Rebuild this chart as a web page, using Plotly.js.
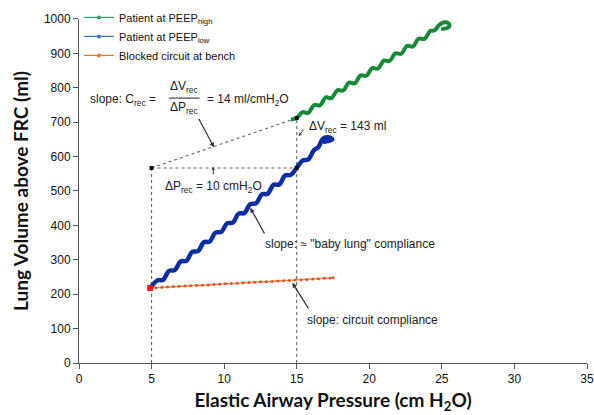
<!DOCTYPE html>
<html>
<head>
<meta charset="utf-8">
<script src="https://cdn.plot.ly/plotly-3.0.1.min.js"></script>
<style>html,body{margin:0;padding:0;background:#fff;}#chart{width:594px;height:415px;}</style>
</head>
<body>
<div id="chart"></div>
<script>
// ---- data ----
const highX = [14.6, 15.0, 15.4, 15.8, 16.2, 16.6, 17.0, 17.4, 17.8, 18.2, 18.6, 19.0, 19.4, 19.8, 20.2, 20.6, 21.0, 21.4, 21.8, 22.2, 22.6, 23.0, 23.4, 23.8, 24.2, 24.5, 24.8, 25.1, 25.45, 25.5, 25.2, 24.95];
const highY = [708, 712, 729, 727, 750, 749, 772, 770, 793, 792, 815, 813, 836, 835, 857, 856, 879, 878, 900, 899, 922, 920, 943, 942, 965, 967, 982, 990, 988, 978, 972, 972];

const lowX = [4.9, 5.4, 5.8, 6.2, 6.6, 7.0, 7.4, 7.8, 8.2, 8.6, 9.0, 9.4, 9.8, 10.2, 10.6, 11.0, 11.4, 11.8, 12.2, 12.6, 13.0, 13.4, 13.8, 14.2, 14.6, 15.0, 15.4, 15.8, 16.2, 16.5, 16.8, 17.15, 17.45, 17.1, 16.8];
const lowY = [218, 240, 242, 268, 270, 295, 297, 323, 325, 351, 353, 379, 381, 406, 408, 434, 436, 462, 464, 490, 492, 518, 519, 545, 547, 567, 588, 592, 619, 628, 652, 656, 650, 645, 642];

const benchX = [4.9, 5.3, 5.7, 6.1, 6.5, 6.9, 7.3, 7.7, 8.1, 8.5, 8.9, 9.3, 9.7, 10.1, 10.5, 10.9, 11.3, 11.7, 12.1, 12.5, 12.9, 13.3, 13.7, 14.1, 14.5, 14.9, 15.3, 15.7, 16.1, 16.5, 16.9, 17.3, 17.5];
const benchY = [218, 219, 220, 221, 222, 223, 224, 224.5, 225, 226, 227, 228, 229, 230, 231, 232, 233, 234, 235, 236, 236.5, 237, 238, 239, 240, 241, 242, 243, 244, 245, 246, 247, 247.5];

// recruitment construction (ΔP_rec, ΔV_rec)
const pRec = [5, 15];          // cmH2O
const vRecLow = 567;           // ml, low PEEP volume at 15
const vRecHigh = 712;          // ml, high PEEP volume at 15

const xTicks = [0, 5, 10, 15, 20, 25, 30, 35];
const yTicks = [0, 100, 200, 300, 400, 500, 600, 700, 800, 900, 1000];

const legendNames = ['Patient at PEEP<sub>high</sub>', 'Patient at PEEP<sub>low</sub>', 'Blocked circuit at bench'];

// ---- traces ----
const dotLine = {color: '#666', width: 1.1, dash: 'dot'};
const traces = [
  {x: [pRec[0], pRec[0]], y: [0, vRecLow], mode: 'lines', line: dotLine, showlegend: false},
  {x: [pRec[1], pRec[1]], y: [0, vRecHigh], mode: 'lines', line: dotLine, showlegend: false},
  {x: [pRec[0], pRec[1]], y: [vRecLow, vRecLow], mode: 'lines', line: dotLine, showlegend: false},
  {x: [pRec[0], pRec[1]], y: [vRecLow, vRecHigh], mode: 'lines', line: dotLine, showlegend: false},
  {x: benchX, y: benchY, mode: 'lines+markers', line: {color: '#f5844a', width: 1.3},
   marker: {color: '#e4501c', size: 3}, showlegend: false},
  {x: lowX, y: lowY, mode: 'lines', line: {color: '#0d2ea3', width: 4.5, shape: 'spline', smoothing: 1.1}, showlegend: false},
  {x: highX, y: highY, mode: 'lines', line: {color: '#178a3a', width: 4, shape: 'spline', smoothing: 1.1}, showlegend: false},
  {x: [benchX[0]], y: [benchY[0]], mode: 'markers', marker: {color: '#e41a1c', symbol: 'square', size: 6}, showlegend: false},
  {x: [pRec[0], pRec[1], pRec[1]], y: [vRecLow, vRecLow, vRecHigh], mode: 'markers',
   marker: {color: '#111', symbol: 'square', size: 4}, showlegend: false},
  // legend entries
  {x: [null], y: [null], name: legendNames[0], mode: 'lines+markers', line: {color: '#2f9e6a', width: 1.2}, marker: {color: '#2f9e6a', size: 4}},
  {x: [null], y: [null], name: legendNames[1], mode: 'lines+markers', line: {color: '#3a72c2', width: 1.2}, marker: {color: '#3a72c2', size: 4}},
  {x: [null], y: [null], name: legendNames[2], mode: 'lines+markers', line: {color: '#f07a2a', width: 1.2}, marker: {color: '#f07a2a', size: 4}}
];

const tf = {family: 'Liberation Sans, Arial, sans-serif', size: 12, color: '#222'};
const arrowBase = {showarrow: true, arrowhead: 2, arrowsize: 0.8, arrowwidth: 1.2, arrowcolor: '#333', text: '', axref: 'pixel', ayref: 'pixel'};

const annotations = [
  {x: 0.62, y: 765, xref: 'x', yref: 'y', text: 'slope: C<sub>rec</sub> =', showarrow: false, xanchor: 'left', yanchor: 'middle', font: tf},
  {x: 7.25, y: 802, xref: 'x', yref: 'y', text: 'ΔV<sub>rec</sub>', showarrow: false, xanchor: 'center', yanchor: 'middle', font: tf},
  {x: 7.25, y: 742, xref: 'x', yref: 'y', text: 'ΔP<sub>rec</sub>', showarrow: false, xanchor: 'center', yanchor: 'middle', font: tf},
  {x: 8.7, y: 765, xref: 'x', yref: 'y', text: '= 14 ml/cmH<sub>2</sub>O', showarrow: false, xanchor: 'left', yanchor: 'middle', font: tf},
  {x: 15.7, y: 686, xref: 'x', yref: 'y', text: 'ΔV<sub>rec</sub> = 143 ml', showarrow: false, xanchor: 'left', yanchor: 'middle', font: tf},
  {x: 5.8, y: 513, xref: 'x', yref: 'y', text: 'ΔP<sub>rec</sub> = 10 cmH<sub>2</sub>O', showarrow: false, xanchor: 'left', yanchor: 'middle', font: tf},
  {x: 12.7, y: 346, xref: 'x', yref: 'y', text: 'slope: ≈ "baby lung" compliance', showarrow: false, xanchor: 'left', yanchor: 'middle', font: tf},
  {x: 15.6, y: 125, xref: 'x', yref: 'y', text: 'slope: circuit compliance', showarrow: false, xanchor: 'left', yanchor: 'middle', font: tf},
  Object.assign({}, arrowBase, {x: 9.3, y: 627, xref: 'x', yref: 'y', ax: -16, ay: -30}),
  Object.assign({}, arrowBase, {x: 11.8, y: 451, xref: 'x', yref: 'y', ax: 15, ay: 27}),
  Object.assign({}, arrowBase, {x: 14.7, y: 233, xref: 'x', yref: 'y', ax: 17, ay: 27}),
  Object.assign({}, arrowBase, {x: 9.25, y: 570, xref: 'x', yref: 'y', ax: 0, ay: 9, arrowsize: 0.6, arrowwidth: 1}),
  Object.assign({}, arrowBase, {x: 15.15, y: 660, xref: 'x', yref: 'y', ax: 6, ay: -8, arrowsize: 0.6, arrowwidth: 1})
];

const shapes = [
  // fraction bar
  {type: 'line', xref: 'x', yref: 'y', x0: 6.2, x1: 8.3, y0: 770, y1: 770, line: {color: '#222', width: 1}}
];

const layout = {
  width: 594, height: 415,
  margin: {l: 79, r: 7, t: 0, b: 52},
  paper_bgcolor: '#fff', plot_bgcolor: '#fff',
  showlegend: true,
  legend: {x: 0.0, y: 0.992, xanchor: 'left', yanchor: 'top', bgcolor: 'rgba(0,0,0,0)',
           font: {family: 'Liberation Sans, Arial, sans-serif', size: 11, color: '#111'},
           itemwidth: 30, tracegroupgap: 0},
  xaxis: {range: [0, 35], tickvals: xTicks, ticktext: xTicks.map(String), showgrid: false, zeroline: false,
          showline: true, linecolor: '#555', linewidth: 1, ticks: 'outside', ticklen: 5, tickcolor: '#555',
          tickfont: {family: 'Liberation Sans, Arial, sans-serif', size: 12, color: '#111'},
          title: {text: '<b>Elastic Airway Pressure (cm H<sub>2</sub>O)</b>', standoff: 8,
                  font: {family: 'Lato, sans-serif', size: 19, color: '#111'}}},
  yaxis: {domain: [0, 0.9477], range: [0, 1000], tickvals: yTicks, ticktext: yTicks.map(String), showgrid: false, zeroline: false,
          showline: true, linecolor: '#555', linewidth: 1, ticks: 'outside', ticklen: 5, tickcolor: '#555',
          tickfont: {family: 'Liberation Sans, Arial, sans-serif', size: 12, color: '#111'},
          title: {text: '<b>Lung Volume above FRC (ml)</b>', standoff: 10,
                  font: {family: 'Lato, sans-serif', size: 19, color: '#111'}}},
  annotations: annotations,
  shapes: shapes
};

Plotly.newPlot('chart', traces, layout, {staticPlot: true, displayModeBar: false});
</script>
</body>
</html>
